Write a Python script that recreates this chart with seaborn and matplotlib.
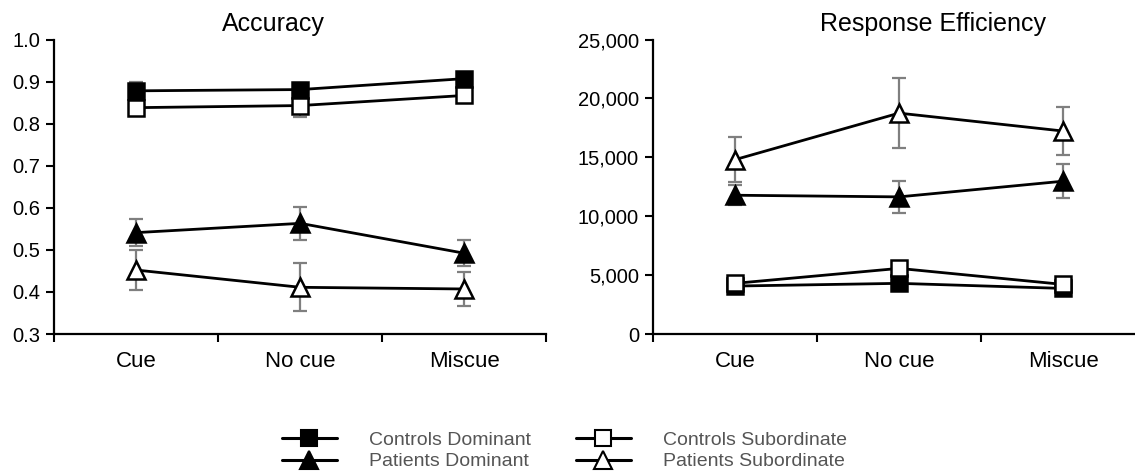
import numpy as np
import pandas as pd
import matplotlib
matplotlib.use("Agg")
import matplotlib.pyplot as plt
from matplotlib.ticker import FixedLocator, FuncFormatter
from matplotlib.lines import Line2D
import seaborn as sns

sns.set_theme(style="white")
plt.rcParams['font.family'] = ['Liberation Sans', 'DejaVu Sans']

categories = ["Cue", "No cue", "Miscue"]
series_names = ["Controls Dominant", "Patients Dominant", "Controls Subordinate", "Patients Subordinate"]

# Accuracy
acc_cd = [0.878, 0.881, 0.907]
acc_cd_err = [0.020, 0.015, 0.012]
acc_pd = [0.541, 0.563, 0.492]
acc_pd_err = [0.033, 0.040, 0.031]
acc_cs = [0.838, 0.843, 0.867]
acc_cs_err = [0.015, 0.027, 0.012]
acc_ps = [0.452, 0.411, 0.407]
acc_ps_err = [0.047, 0.057, 0.040]

# Response efficiency
eff_cd = [4070, 4300, 3870]
eff_cd_err = [300, 300, 300]
eff_pd = [11780, 11640, 12970]
eff_pd_err = [850, 1350, 1450]
eff_cs = [4300, 5570, 4210]
eff_cs_err = [300, 300, 300]
eff_ps = [14800, 18750, 17230]
eff_ps_err = [1900, 3000, 2000]

styles = {
    "Controls Dominant": dict(marker="s", mfc="black", ms=11),
    "Patients Dominant": dict(marker="^", mfc="black", ms=13),
    "Controls Subordinate": dict(marker="s", mfc="white", ms=11),
    "Patients Subordinate": dict(marker="^", mfc="white", ms=13),
}
draw_order = ["Patients Subordinate", "Patients Dominant", "Controls Dominant", "Controls Subordinate"]

W, H = 1135, 471
fig = plt.figure(figsize=(W / 100, H / 100), dpi=100)
bottom = (H - 334) / H
top = (H - 39.5) / H
cat_w = 164.0
ax1 = fig.add_axes([54.3 / W, bottom, 3 * cat_w / W, top - bottom])
ax2 = fig.add_axes([653 / W, bottom, (W - 653) / W, top - bottom])

x = np.arange(len(categories))

def draw_panel(ax, data, errs, ylim, yticks, fmt, xmax, xbounds):
    for name in draw_order:
        ax.errorbar(x, data[name], yerr=errs[name], fmt="none", ecolor="#7f7f7f",
                    elinewidth=1.6, capsize=5, capthick=1.6, zorder=2)
    for name in draw_order:
        st = styles[name]
        df = pd.DataFrame({"x": x, "y": data[name]})
        sns.lineplot(data=df, x="x", y="y", ax=ax, color="black", linewidth=2.0,
                     marker=st["marker"], markersize=st["ms"], markerfacecolor=st["mfc"],
                     markeredgecolor="black", markeredgewidth=1.8, zorder=3)
    ax.set_xlim(-0.5, xmax)
    ax.set_ylim(*ylim)
    ax.yaxis.set_major_locator(FixedLocator(yticks))
    ax.yaxis.set_major_formatter(FuncFormatter(fmt))
    ax.xaxis.set_major_locator(FixedLocator(xbounds))
    ax.xaxis.set_major_formatter(FuncFormatter(lambda v, p: ""))
    ax.xaxis.set_minor_locator(FixedLocator(list(x)))
    ax.set_xticklabels(categories, minor=True)
    ax.tick_params(axis="x", which="major", direction="out", length=6, width=1.5, color="black", bottom=True)
    ax.tick_params(axis="x", which="minor", length=0, pad=12, labelsize=16, labelcolor="black")
    ax.tick_params(axis="y", which="major", direction="out", length=6, width=1.5, color="black", left=True,
                   labelsize=14.5, labelcolor="black", pad=4)
    ax.set_xlabel("")
    ax.set_ylabel("")
    for s in ["top", "right"]:
        ax.spines[s].set_visible(False)
    for s in ["left", "bottom"]:
        ax.spines[s].set_color("black")
        ax.spines[s].set_linewidth(1.6)
    ax.set_facecolor("white")
    ax.grid(False)
    legend = ax.get_legend()
    if legend is not None:
        legend.remove()

acc = {"Controls Dominant": acc_cd, "Patients Dominant": acc_pd,
       "Controls Subordinate": acc_cs, "Patients Subordinate": acc_ps}
acc_e = {"Controls Dominant": acc_cd_err, "Patients Dominant": acc_pd_err,
         "Controls Subordinate": acc_cs_err, "Patients Subordinate": acc_ps_err}
eff = {"Controls Dominant": eff_cd, "Patients Dominant": eff_pd,
       "Controls Subordinate": eff_cs, "Patients Subordinate": eff_ps}
eff_e = {"Controls Dominant": eff_cd_err, "Patients Dominant": eff_pd_err,
         "Controls Subordinate": eff_cs_err, "Patients Subordinate": eff_ps_err}

draw_panel(ax1, acc, acc_e, (0.3, 1.0), [0.3, 0.4, 0.5, 0.6, 0.7, 0.8, 0.9, 1.0],
           lambda v, p: f"{v:.1f}", 2.5, [-0.5, 0.5, 1.5, 2.5])
draw_panel(ax2, eff, eff_e, (0, 25000), [0, 5000, 10000, 15000, 20000, 25000],
           lambda v, p: f"{int(round(v)):,}", -0.5 + (W - 653) / cat_w, [-0.5, 0.5, 1.5])

fig.text(273.6 / W, 1 - 24 / H, "Accuracy", ha="center", va="center", fontsize=18, color="black")
fig.text(933.5 / W, 1 - 24 / H, "Response Efficiency", ha="center", va="center", fontsize=18, color="black")

handles = []
for name in series_names:
    st = styles[name]
    handles.append(Line2D([0], [0], color="black", linewidth=2.2, marker=st["marker"],
                          markersize=st["ms"], markerfacecolor=st["mfc"],
                          markeredgecolor="black", markeredgewidth=1.5))
leg = fig.legend(handles, series_names, ncol=2, loc="upper left",
                 bbox_to_anchor=(281.7 / W, 1 - 431 / H), frameon=False,
                 fontsize=14, handlelength=2.83, handletextpad=1.65, columnspacing=2.3,
                 labelspacing=0.22, borderpad=0, borderaxespad=0)
for t in leg.get_texts():
    t.set_color("#555555")

fig.savefig("out.png", dpi=100, facecolor="white")
